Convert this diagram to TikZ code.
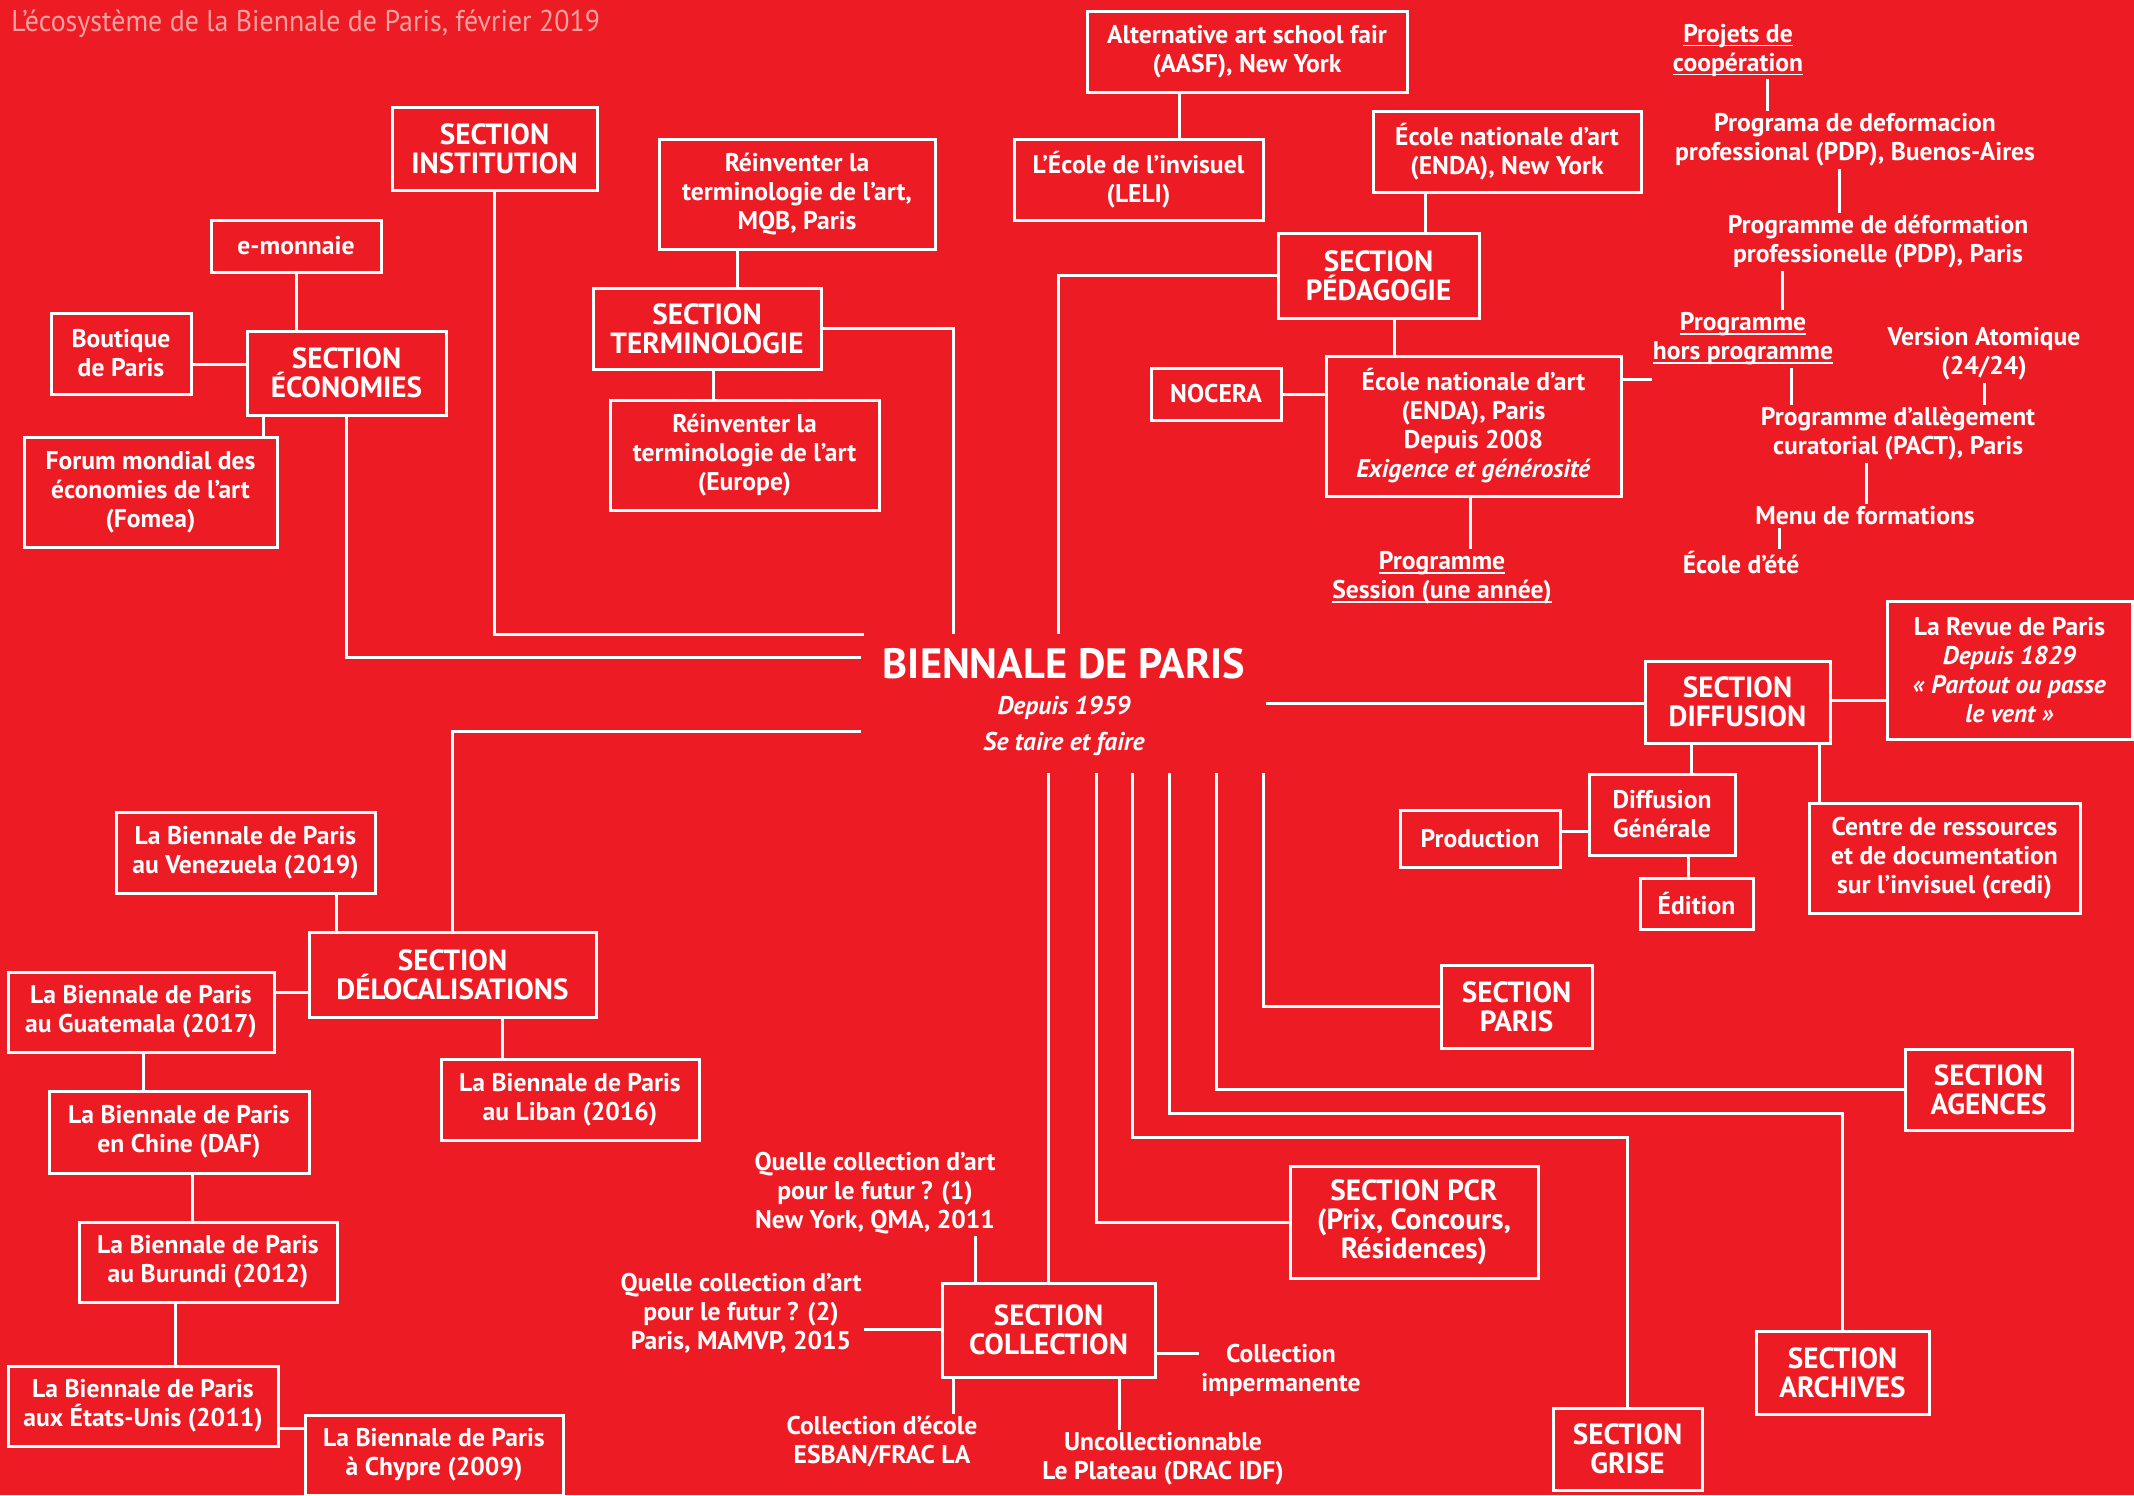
\documentclass[tikz,border=0pt]{standalone}
\usepackage{fontspec}
\setmainfont{PT Sans}
\newfontfamily\titlefont[FakeStretch=0.93]{PT Sans}
\usetikzlibrary{calc}
\definecolor{bienred}{RGB}{237,28,36}
\definecolor{titlepink}{RGB}{247,162,160}
\newcommand{\undl}[1]{\setbox0\hbox{#1}\rlap{\rule[-1.9pt]{\wd0}{0.6pt}}\box0}
\tikzset{
  box/.style={draw=white, line width=1.5pt, text=white, align=center, inner sep=0pt,
    font=\bfseries\fontsize{12.8}{14.5}\selectfont},
  sectbox/.style={box, font=\bfseries\fontsize{14.6}{14.5}\selectfont},
  lbl/.style={text=white, align=center, inner sep=1pt, font=\bfseries\fontsize{12.8}{14.5}\selectfont},
  sz/.style 2 args={minimum width=#1*0.5pt, minimum height=#2*0.5pt},
  conn/.style={white, line width=1.5pt}
}

\begin{document}
\begin{tikzpicture}[x=0.5pt,y=-0.5pt]
\fill[bienred] (0,0) rectangle (2134,1495);
\useasboundingbox (0,0) rectangle (2134,1495);

\node[anchor=west, text=titlepink, inner sep=0pt, font=\titlefont\fontsize{15}{18}\selectfont] (title) at (11,24) {L’écosystème de la Biennale de Paris, février 2019};

% centre
\node[lbl, font=\bfseries\fontsize{21.2}{24}\selectfont] (bdp) at (1064,664) {BIENNALE DE PARIS};
\node[lbl, font=\bfseries\itshape\fontsize{12.8}{14.5}\selectfont] (since) at (1064,708) {Depuis 1959};
\node[lbl, font=\bfseries\itshape\fontsize{12.8}{14.5}\selectfont] (motto) at (1064,744) {Se taire et faire};
\coordinate (hubI) at (864,634);
\coordinate (hubT) at (953,634);
\coordinate (hubP) at (1058,634);
\coordinate (hubE) at (861,657);
\coordinate (hubL) at (861,731);
\coordinate (hubD) at (1266,703);
\coordinate (v1) at (1048,773);
\coordinate (v2) at (1096,773);
\coordinate (v3) at (1132,773);
\coordinate (v4) at (1169,773);
\coordinate (v5) at (1216,773);
\coordinate (v6) at (1263,773);
\coordinate (endapstub) at (1652,379);

% economies, institution, terminologie
\node[box, sz={170}{52}] (emon) at (296,246) {e-monnaie};
\node[box, sz={140}{81}] (bout) at (121,353.5) {Boutique\\de Paris};
\node[sectbox, sz={199}{84}] (eco) at (346.5,373) {SECTION\\ÉCONOMIES};
\node[box, sz={253}{110}] (fomea) at (150.5,492) {Forum mondial des\\économies de l’art\\(Fomea)};
\node[sectbox, sz={205}{83}] (inst) at (494.5,148.5) {SECTION\\INSTITUTION};
\node[box, sz={276}{110}] (mqb) at (797,194) {Réinventer la\\terminologie de l’art,\\MQB, Paris};
\node[sectbox, sz={228}{81}] (termino) at (707,328.5) {SECTION\\TERMINOLOGIE};
\node[box, sz={269}{110}] (europe) at (744.5,455) {Réinventer la\\terminologie de l’art\\(Europe)};

% pedagogie
\node[box, sz={320}{81}] (aasf) at (1247,51.5) {Alternative art school fair\\(AASF), New York};
\node[box, sz={249}{81}] (leli) at (1138.5,179.5) {L’École de l’invisuel\\(LELI)};
\node[box, sz={268}{81}] (endany) at (1507,151.5) {École nationale d’art\\(ENDA), New York};
\node[sectbox, sz={201}{85}] (peda) at (1378.5,275.5) {SECTION\\PÉDAGOGIE};
\node[box, sz={130}{52}] (nocera) at (1216,394) {NOCERA};
\node[box, sz={295}{140}] (endap) at (1473.5,426) {École nationale d’art\\(ENDA), Paris\\Depuis 2008\\\textit{Exigence et générosité}};
\node[lbl] (session) at (1442,578) {\undl{Programme}\\\undl{Session (une année)}};

\node[lbl] (projets) at (1738,50) {\undl{Projets de}\\\undl{coopération}};
\node[lbl] (pdpba) at (1855,140) {Programa de deformacion\\professional (PDP), Buenos-Aires};
\node[lbl] (pdpparis) at (1878,242) {Programme de déformation\\professionelle (PDP), Paris};
\node[lbl] (hors) at (1743,339) {\undl{Programme}\\\undl{hors programme}};
\node[lbl] (atom) at (1984,354) {Version Atomique\\(24/24)};
\node[lbl] (pact) at (1898,434) {Programme d’allègement\\curatorial (PACT), Paris};
\node[lbl] (menu) at (1865,516) {Menu de formations};
\node[lbl] (ete) at (1741,563) {École d’été};

% diffusion
\node[box, sz={245}{138}] (revue) at (2009.5,670) {La Revue de Paris\\\textit{Depuis 1829}\\\textit{« Partout ou passe}\\\textit{le vent »}};
\node[sectbox, sz={185}{82}] (diff) at (1737.5,702) {SECTION\\DIFFUSION};
\node[box, sz={146}{81}] (dg) at (1662,814.5) {Diffusion\\Générale};
\node[box, sz={160}{57}] (prod) at (1480,838.5) {Production};
\node[box, sz={113}{51}] (edition) at (1696.5,903.5) {Édition};
\node[box, sz={271}{110}] (credi) at (1944.5,858) {Centre de ressources\\et de documentation\\sur l’invisuel (credi)};

% sections below
\node[sectbox, sz={151}{83}] (paris) at (1516.5,1006.5) {SECTION\\PARIS};
\node[sectbox, sz={167}{81}] (agences) at (1988.5,1089.5) {SECTION\\AGENCES};
\node[sectbox, sz={173}{83}] (archives) at (1842.5,1372.5) {SECTION\\ARCHIVES};
\node[sectbox, sz={149}{82}] (grise) at (1627.5,1449) {SECTION\\GRISE};
\node[sectbox, sz={248}{112}] (pcr) at (1414,1222) {SECTION PCR\\(Prix, Concours,\\Résidences)};
\node[sectbox, sz={213}{94}] (coll) at (1048.5,1330) {SECTION\\COLLECTION};
\node[lbl] (q1) at (875,1193) {Quelle collection d’art\\pour le futur ? (1)\\New York, QMA, 2011};
\node[lbl] (q2) at (741,1313) {Quelle collection d’art\\pour le futur ? (2)\\Paris, MAMVP, 2015};
\node[lbl] (ecole) at (882,1442) {Collection d’école\\ESBAN/FRAC LA};
\node[lbl] (uncoll) at (1163,1459) {Uncollectionnable\\Le Plateau (DRAC IDF)};
\node[lbl] (imperm) at (1281,1370) {Collection\\impermanente};

% delocalisations
\node[sectbox, sz={287}{85}] (deloc) at (452.5,974.5) {SECTION\\DÉLOCALISATIONS};
\node[box, sz={259}{81}] (venez) at (245.5,852.5) {La Biennale de Paris\\au Venezuela (2019)};
\node[box, sz={266}{80}] (guat) at (141,1012) {La Biennale de Paris\\au Guatemala (2017)};
\node[box, sz={258}{81}] (liban) at (570,1099.5) {La Biennale de Paris\\au Liban (2016)};
\node[box, sz={260}{82}] (chine) at (179,1132) {La Biennale de Paris\\en Chine (DAF)};
\node[box, sz={258}{80}] (burundi) at (208,1262) {La Biennale de Paris\\au Burundi (2012)};
\node[box, sz={270}{80}] (usa) at (143,1406) {La Biennale de Paris\\aux États-Unis (2011)};
\node[box, sz={258}{80}] (chypre) at (434,1455) {La Biennale de Paris\\à Chypre (2009)};

% connectors
\draw[conn] (emon.south) -- (emon.south |- eco.north);
\draw[conn] (bout.east |- 0,364) -- (eco.west |- 0,364);
\draw[conn] (eco.south -| 263,0) -- (fomea.north -| 263,0);
\draw[conn] (eco.south) |- (hubE);
\draw[conn] (inst.south) |- (hubI);
\draw[conn] (mqb.south -| 737,0) -- (termino.north -| 737,0);
\draw[conn] (termino.south -| 713,0) -- (europe.north -| 713,0);
\draw[conn] (termino.east) -| (hubT);
\draw[conn] (aasf.south -| 1179,0) -- (leli.north -| 1179,0);
\draw[conn] (endany.south -| 1425,0) -- (peda.north -| 1425,0);
\draw[conn] (peda.west) -| (hubP);
\draw[conn] (peda.south -| 1394,0) -- (endap.north -| 1394,0);
\draw[conn] (nocera.east) -- (nocera.east -| endap.west);
\draw[conn] (endap.east |- endapstub) -- (endapstub);
\draw[conn] (endap.south -| 1470,0) -- (session.north -| 1470,0);
\draw[conn] (projets.south -| 1767,0) -- (pdpba.north -| 1767,0);
\draw[conn] (pdpba.south -| 1839,0) -- (pdpparis.north -| 1839,0);
\draw[conn] (pdpparis.south -| 1782,0) -- (hors.north -| 1782,0);
\draw[conn] (hors.south -| 1791,0) -- (pact.north -| 1791,0);
\draw[conn] (atom.south) -- (pact.north -| atom.south);
\draw[conn] (pact.south -| 1866,0) -- (menu.north -| 1866,0);
\draw[conn] (menu.south -| 1779,0) -- (ete.north -| 1779,0);

\draw[conn] (hubD) -- (diff.west |- hubD);
\draw[conn] (diff.east |- 0,700) -- (revue.west |- 0,700);
\draw[conn] (diff.south -| 1691,0) -- (dg.north -| 1691,0);
\draw[conn] (prod.east |- 0,831) -- (dg.west |- 0,831);
\draw[conn] (dg.south -| 1688,0) -- (edition.north -| 1688,0);
\draw[conn] (diff.south -| 1819,0) -- (credi.north -| 1819,0);

\draw[conn] (v6) |- (paris.west);
\draw[conn] (v5) |- (agences.west);
\draw[conn] (v4) -- (v4 |- 0,1113) -| (archives.north);
\draw[conn] (v3) -- (v3 |- 0,1137) -| (grise.north);
\draw[conn] (v2) |- (pcr.west);
\draw[conn] (v1) -- (coll.north -| v1);

\draw[conn] (coll.east |- 0,1353) -- (imperm.west |- 0,1353);
\draw[conn] (coll.south -| 1119,0) -- (uncoll.north -| 1119,0);
\draw[conn] (coll.south -| 953,0) -- (ecole.north -| 953,0);
\draw[conn] (coll.west |- 0,1329) -- (q2.east |- 0,1329);
\draw[conn] (coll.north -| 975,0) -- (q1.south -| 975,0);

\draw[conn] (hubL) -| (deloc.north);
\draw[conn] (venez.south -| 336,0) -- (deloc.north -| 336,0);
\draw[conn] (guat.east |- 0,992) -- (deloc.west |- 0,992);
\draw[conn] (deloc.south -| 502,0) -- (liban.north -| 502,0);
\draw[conn] (guat.south -| 143,0) -- (chine.north -| 143,0);
\draw[conn] (chine.south -| 192,0) -- (burundi.north -| 192,0);
\draw[conn] (burundi.south -| 175,0) -- (usa.north -| 175,0);
\draw[conn] (usa.east |- 0,1428) -- (chypre.west |- 0,1428);
\end{tikzpicture}
\end{document}
